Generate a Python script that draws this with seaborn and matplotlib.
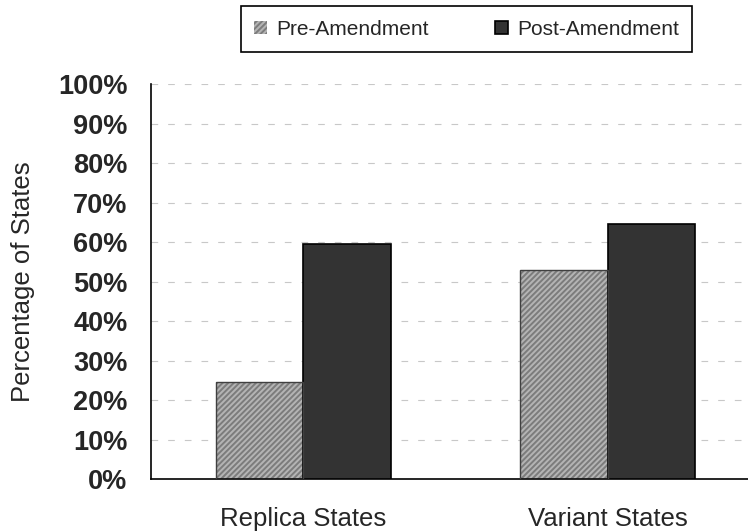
import matplotlib
matplotlib.use("Agg")
import matplotlib.pyplot as plt
from matplotlib.patches import Rectangle
from matplotlib.ticker import FixedLocator, NullFormatter, FixedFormatter
import seaborn as sns
import pandas as pd

categories = ["Replica States", "Variant States"]
series_names = ["Pre-Amendment", "Post-Amendment"]
pre_values = [24.6, 52.9]
post_values = [59.5, 64.6]
y_ticks = [0, 10, 20, 30, 40, 50, 60, 70, 80, 90, 100]
y_tick_labels = [f"{v}%" for v in y_ticks]
y_label = "Percentage of States"

sns.set_style("white")
plt.rcParams["font.family"] = ["Liberation Sans", "DejaVu Sans"]
plt.rcParams["hatch.linewidth"] = 1.4

df = pd.DataFrame({
    "category": categories * 2,
    "series": [series_names[0]] * len(categories) + [series_names[1]] * len(categories),
    "value": pre_values + post_values,
})

fig = plt.figure(figsize=(7.48, 5.31), dpi=100)
ax = fig.add_axes([0.2019, 0.0979, 0.8142, 0.7439])

sns.barplot(data=df, x="category", y="value", hue="series", order=categories,
            hue_order=series_names, palette=["#b4b4b4", "#333333"],
            width=0.575, gap=0, ax=ax, saturation=1, legend=False)

pre_bars, post_bars = ax.containers[0], ax.containers[1]
for p in pre_bars:
    p.set_facecolor("#b4b4b4")
    p.set_edgecolor("#7c7c7c")
    p.set_hatch("//////")
    p.set_linewidth(0)
    p.set_zorder(2)
    ax.add_patch(Rectangle(p.get_xy(), p.get_width(), p.get_height(), fill=False,
                           edgecolor="#404040", linewidth=1.0, zorder=3))
for p in post_bars:
    p.set_facecolor("#333333")
    p.set_edgecolor("black")
    p.set_linewidth(1.2)
    p.set_zorder(3)

ax.set_xlim(-0.5, len(categories) - 0.5)
ax.set_ylim(0, 100)
ax.set_yticks(y_ticks)
ax.set_yticklabels(y_tick_labels, fontsize=19.5, fontweight="bold")

# category boundaries as major ticks, labels on minor ticks
ax.xaxis.set_major_locator(FixedLocator([i - 0.5 for i in range(len(categories) + 1)]))
ax.xaxis.set_major_formatter(NullFormatter())
ax.xaxis.set_minor_locator(FixedLocator(list(range(len(categories)))))
ax.xaxis.set_minor_formatter(FixedFormatter(categories))
ax.tick_params(axis="x", which="major", direction="out", length=7, width=1.1, color="black")
ax.tick_params(axis="x", which="minor", length=0, pad=20, labelsize=18.5)
ax.tick_params(axis="y", direction="out", length=7, width=1.1, color="black", pad=10)

ax.set_xlabel("")
ax.set_ylabel(y_label, fontsize=18.5)
ax.yaxis.set_label_coords(-0.19, 0.5)

for s in ["top", "right"]:
    ax.spines[s].set_visible(False)
for s in ["left", "bottom"]:
    ax.spines[s].set_color("black")
    ax.spines[s].set_linewidth(1.2)

ax.yaxis.grid(True, color="#c8c8c8", linestyle=(0, (6, 9)), linewidth=0.8)
ax.xaxis.grid(False)
ax.set_axisbelow(True)

leg = fig.legend(handles=[pre_bars, post_bars], labels=series_names, loc="center",
                 bbox_to_anchor=(0.6237, 0.945), ncol=2, fontsize=15,
                 handlelength=0.6, handleheight=0.6, handletextpad=0.45,
                 columnspacing=3.2, borderpad=0.65, frameon=True, fancybox=False,
                 framealpha=1)
leg.get_frame().set_edgecolor("black")
leg.get_frame().set_linewidth(1.2)

fig.savefig("out.png", dpi=100)
